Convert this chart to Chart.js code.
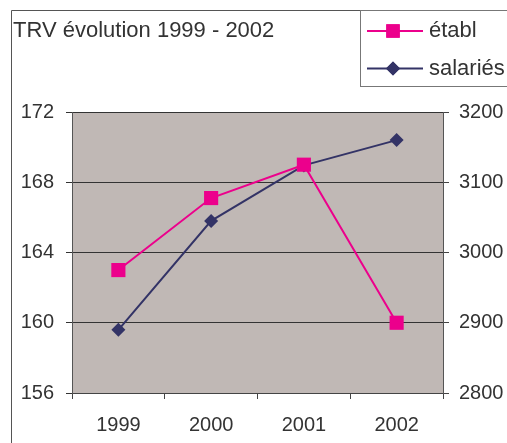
<!DOCTYPE html>
<html><head><meta charset="utf-8">
<script src="https://cdn.jsdelivr.net/npm/chart.js@4/dist/chart.umd.min.js"></script>
<style>html,body{margin:0;padding:0;background:#fff;overflow:hidden}</style>
</head><body>
<canvas id="c" width="507" height="443" style="display:block;width:507px;height:443px"></canvas>
<script>
const titleText = 'TRV évolution 1999 - 2002';
const years = ['1999', '2000', '2001', '2002'];
const etablLabel = 'établ';
const etabl = [163, 167.1, 169, 160];
const salariesLabel = 'salariés';
const salaries = [2890, 3045, 3124, 3160];
const leftTicks = [156, 160, 164, 168, 172];
const rightTicks = [2800, 2900, 3000, 3100, 3200];

const PINK = '#EC008C';
const NAVY = '#333366';
const BG = '#C0B8B5';
const FONT = 'Liberation Sans, Arial, sans-serif';
const TXT = '#333333';

const decor = {
  id: 'decor',
  beforeDraw(chart) {
    const a = chart.chartArea, ctx = chart.ctx;
    ctx.save();
    ctx.fillStyle = BG;
    ctx.fillRect(a.left, a.top, a.right - a.left, a.bottom - a.top);
    ctx.restore();
  },
  afterDraw(chart) {
    const ctx = chart.ctx;
    ctx.save();
    // outer frame
    ctx.strokeStyle = '#555';
    ctx.lineWidth = 1;
    ctx.beginPath();
    ctx.moveTo(11.5, 450); ctx.lineTo(11.5, 10.5); ctx.lineTo(510, 10.5);
    ctx.stroke();
    // title
    ctx.fillStyle = TXT;
    ctx.font = '22px ' + FONT;
    ctx.textBaseline = 'alphabetic';
    ctx.textAlign = 'left';
    ctx.fillText(titleText, 13, 37);
    // legend box
    ctx.strokeStyle = '#777';
    ctx.strokeRect(360.5, 10.5, 160, 76);
    const rows = [31, 68.5];
    const bases = [37, 75];
    chart.data.datasets.forEach((ds, i) => {
      const y = rows[i];
      ctx.strokeStyle = ds.borderColor;
      ctx.lineWidth = 2;
      ctx.beginPath(); ctx.moveTo(367, y); ctx.lineTo(423, y); ctx.stroke();
      ctx.fillStyle = ds.backgroundColor;
      const r = i === 0 ? 9.5 : 7;
      Chart.helpers.drawPoint(ctx, {pointStyle: ds.pointStyle, radius: r, borderWidth: 0}, 393, y);
      ctx.fill();
      ctx.fillStyle = TXT;
      ctx.font = '22px ' + FONT;
      ctx.fillText(ds.label, 429, bases[i]);
    });
    ctx.restore();
  }
};

new Chart(document.getElementById('c'), {
  type: 'line',
  data: {
    labels: years,
    datasets: [
      { label: etablLabel, data: etabl, yAxisID: 'y', borderColor: PINK, backgroundColor: PINK,
        borderWidth: 2, pointStyle: 'rect', pointRadius: 10, pointBorderWidth: 0, tension: 0 },
      { label: salariesLabel, data: salaries, yAxisID: 'y1', borderColor: NAVY, backgroundColor: NAVY,
        borderWidth: 2, pointStyle: 'rectRot', pointRadius: 7, pointBorderWidth: 0, tension: 0 }
    ]
  },
  options: {
    responsive: false,
    animation: false,
    devicePixelRatio: 1,
    layout: { padding: { top: 112, left: 0, right: 0, bottom: 0 } },
    plugins: { legend: { display: false }, title: { display: false }, tooltip: { enabled: false } },
    scales: {
      x: {
        type: 'category', offset: true,
        grid: { offset: true, drawOnChartArea: false, drawTicks: true, tickLength: 6, color: '#444', tickColor: '#444' },
        border: { color: '#444' },
        ticks: { color: TXT, font: { family: FONT, size: 20 }, padding: 14, maxRotation: 0 },
        afterFit(s) { s.height = 50; }
      },
      y: {
        position: 'left', min: 156, max: 172,
        afterBuildTicks(s) { s.ticks = leftTicks.map(v => ({ value: v })); },
        grid: { drawOnChartArea: true, color: '#333', tickColor: '#333', tickLength: 6 },
        border: { color: '#555' },
        ticks: { color: TXT, font: { family: FONT, size: 20 }, padding: 12, callback: v => String(v) },
        afterFit(s) { s.width = 72; }
      },
      y1: {
        position: 'right', min: 2800, max: 3200,
        afterBuildTicks(s) { s.ticks = rightTicks.map(v => ({ value: v })); },
        grid: { drawOnChartArea: false, color: '#444', tickColor: '#444', tickLength: 6 },
        border: { color: '#555' },
        ticks: { color: TXT, font: { family: FONT, size: 20 }, padding: 10, callback: v => String(v) },
        afterFit(s) { s.width = 64; }
      }
    }
  },
  plugins: [decor]
});
</script>
</body></html>
